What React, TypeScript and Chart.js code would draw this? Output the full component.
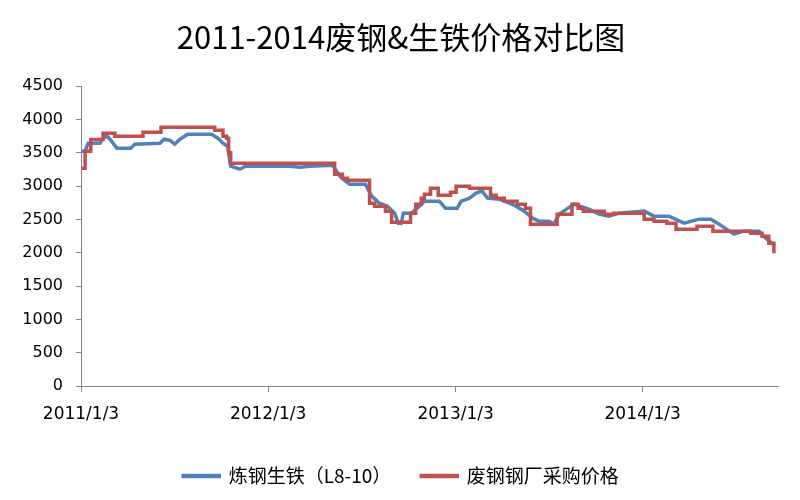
import React, { useEffect, useRef } from "react";
import { Chart, registerables } from "chart.js";

Chart.register(...registerables);

// x values are days counted from 2011/1/3
const xTickDays = [0, 365, 731, 1096];
const xTickLabels = ["2011/1/3", "2012/1/3", "2013/1/3", "2014/1/3"];

const seriesNames = ["炼钢生铁（L8-10）", "废钢钢厂采购价格"];

// 炼钢生铁（L8-10）
const pigIronDays = [
  0, 8, 14, 37, 43, 51, 58, 70, 97, 105, 154, 162, 173, 183, 193, 208, 255, 267, 277, 286,
  292, 310, 321, 407, 427, 446, 491, 505, 514, 524, 555, 567, 582, 598, 612, 619, 625, 629,
  645, 656, 670, 699, 711, 734, 742, 758, 771, 783, 793, 816, 836, 849, 865, 881, 894, 914,
  923, 933, 962, 991, 1011, 1030, 1050, 1099, 1118, 1147, 1177, 1206, 1229, 1245, 1274,
  1293, 1323, 1332, 1354,
];
const pigIronValues = [
  3525, 3525, 3645, 3645, 3720, 3750, 3690, 3570, 3570, 3630, 3645, 3705, 3690, 3630, 3705,
  3780, 3780, 3720, 3645, 3600, 3300, 3255, 3300, 3300, 3285, 3300, 3315, 3150, 3090, 3030,
  3030, 2850, 2745, 2700, 2595, 2445, 2445, 2595, 2595, 2670, 2775, 2775, 2670, 2670, 2775,
  2820, 2895, 2925, 2820, 2805, 2745, 2700, 2625, 2520, 2475, 2475, 2430, 2580, 2730, 2655,
  2580, 2550, 2595, 2625, 2550, 2550, 2445, 2505, 2505, 2430, 2280, 2325, 2325, 2250, 2100,
];

// 废钢钢厂采购价格 (step changes: value starting at that day)
const scrapDays = [
  2, 8, 19, 43, 66, 121, 156, 261, 277, 284, 288, 292, 495, 510, 520, 563, 573, 594, 606,
  643, 653, 664, 670, 682, 697, 721, 732, 758, 799, 810, 826, 851, 867, 877, 929, 958, 970,
  980, 1021, 1040, 1099, 1118, 1143, 1161, 1202, 1233, 1307, 1329, 1342, 1352,
];
const scrapValues = [
  3270, 3525, 3700, 3795, 3750, 3810, 3885, 3840, 3750, 3720, 3500, 3345, 3180, 3120, 3090,
  2745, 2700, 2625, 2460, 2595, 2730, 2820, 2880, 2970, 2865, 2910, 3000, 2970, 2865, 2820,
  2775, 2730, 2670, 2430, 2580, 2730, 2670, 2625, 2580, 2595, 2505, 2475, 2445, 2355, 2400,
  2325, 2295, 2250, 2145, 1995,
];

const yMin = 0;
const yMax = 4500;
const yStep = 500;

// shifts title and legend horizontally so they are centred like the original
const shiftBoxes = {
  id: "shiftBoxes",
  afterLayout(chart: any) {
    const dx = 12;
    if (chart.titleBlock) {
      chart.titleBlock.left += dx;
      chart.titleBlock.right += dx;
    }
    if (chart.legend) {
      chart.legend.left += dx;
      chart.legend.right += dx;
    }
  },
};

export default function App() {
  const canvasRef = useRef<HTMLCanvasElement>(null);

  useEffect(() => {
    if (!canvasRef.current) return;
    const axisColor = "#868686";
    const chart = new Chart(canvasRef.current, {
      type: "line",
      data: {
        datasets: [
          {
            label: seriesNames[0],
            data: pigIronDays.map((d, i) => ({ x: d, y: pigIronValues[i] })),
            borderColor: "#4F81BD",
            backgroundColor: "#4F81BD",
            borderWidth: 3.5,
            pointRadius: 0,
            tension: 0,
            order: 1,
          },
          {
            label: seriesNames[1],
            data: scrapDays.map((d, i) => ({ x: d, y: scrapValues[i] })),
            borderColor: "#C0504D",
            backgroundColor: "#C0504D",
            borderWidth: 3.5,
            pointRadius: 0,
            stepped: true,
            order: 0,
          },
        ],
      },
      plugins: [shiftBoxes],
      options: {
        responsive: false,
        animation: false,
        layout: { padding: { left: 0, right: 22, top: 0, bottom: 4.5 } },
        plugins: {
          title: {
            display: true,
            text: "2011-2014废钢&生铁价格对比图",
            color: "#000",
            font: { family: "'Noto Sans CJK SC'", size: 31, weight: "normal" },
            padding: { top: 19, bottom: 30 },
          },
          legend: {
            position: "bottom",
            labels: {
              color: "#000",
              font: { family: "'Noto Sans CJK SC'", size: 19 },
              boxWidth: 36,
              boxHeight: 1,
              padding: 30,
              sort: (a: any, b: any) => a.datasetIndex - b.datasetIndex,
            },
          },
          tooltip: { enabled: false },
        },
        scales: {
          x: {
            type: "linear",
            min: 0,
            max: 1360,
            afterBuildTicks: (scale: any) => {
              scale.ticks = xTickDays.map((v) => ({ value: v }));
            },
            ticks: {
              autoSkip: false,
              maxRotation: 0,
              color: "#000",
              font: { family: "'DejaVu Sans'", size: 17 },
              padding: 12,
              callback: (v: any) => {
                const i = xTickDays.indexOf(Number(v));
                return i >= 0 ? xTickLabels[i] : "";
              },
            },
            grid: {
              drawOnChartArea: false,
              drawTicks: true,
              tickLength: 6,
              color: axisColor,
            },
            border: { color: axisColor, width: 1 },
          },
          y: {
            min: yMin,
            max: yMax,
            afterFit: (scale: any) => {
              scale.width = 81;
            },
            ticks: {
              stepSize: yStep,
              color: "#000",
              font: { family: "'DejaVu Sans'", size: 16 },
              padding: 13,
              callback: (v: any) => String(v),
            },
            grid: {
              drawOnChartArea: false,
              drawTicks: true,
              tickLength: 5,
              color: axisColor,
            },
            border: { color: axisColor, width: 1 },
          },
        },
      },
    });
    return () => chart.destroy();
  }, []);

  return (
    <div style={{ position: "absolute", left: 0, top: 0, width: 800, height: 500, background: "#fff" }}>
      <canvas ref={canvasRef} width={800} height={500} />
    </div>
  );
}
